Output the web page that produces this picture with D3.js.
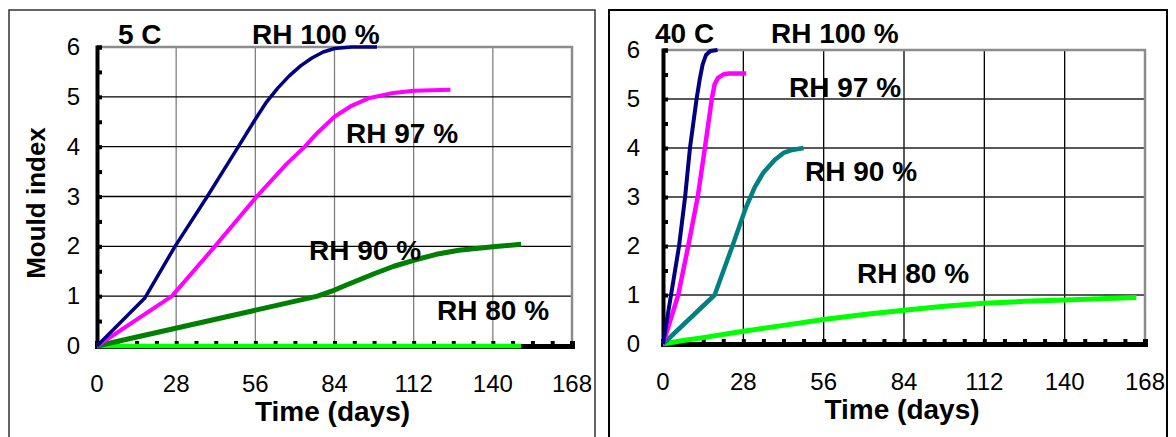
<!DOCTYPE html>
<html lang="en">
<head>
    <meta charset="UTF-8">
    <script src="https://cdn.jsdelivr.net/npm/d3@7"></script>
    <title>Mould index</title>
    <style>
        body { margin: 0; background: #fff; }
        svg { display: block; font-family: "Liberation Sans", Arial, sans-serif; }
    </style>
</head>
<body>
    <div id="chart"></div>

    <script>
        // ---------------- data (days, mould index) ----------------
        const xTicks = [0, 28, 56, 84, 112, 140, 168];
        const yTicks = [0, 1, 2, 3, 4, 5, 6];

        // 5 C
        const c5_rh100 = [[0, 0], [17, 0.97], [27.6, 2], [39, 3], [50, 4], [56, 4.55], [60, 4.9], [64, 5.18], [68, 5.42], [72, 5.62], [76, 5.78], [80, 5.9], [84, 5.97], [90, 6], [99, 6]];
        const c5_rh97 = [[0, 0], [26.5, 1], [41.7, 2], [56.5, 3], [67, 3.65], [73.5, 4], [78, 4.28], [84, 4.6], [90, 4.82], [96, 4.97], [104, 5.07], [112, 5.12], [125, 5.14]];
        const c5_rh90 = [[0, 0], [78, 1], [83, 1.1], [88, 1.22], [98, 1.45], [105, 1.6], [112, 1.72], [120, 1.84], [128, 1.92], [140, 1.99], [150, 2.04]];
        const c5_rh80 = [[0, 0], [150, 0]];

        // 40 C
        const c40_rh100 = [[0, 0], [2.8, 1], [5.6, 2], [7.7, 3], [9.4, 4], [11.7, 5], [12.8, 5.4], [13.8, 5.7], [15, 5.9], [16.5, 5.98], [19, 6]];
        const c40_rh97 = [[0, 0], [5.3, 1], [8.8, 2], [12.1, 3], [14.6, 4], [17, 5], [18, 5.3], [19.2, 5.43], [21, 5.5], [23, 5.52], [29, 5.52]];
        const c40_rh90 = [[0, 0], [18, 1], [24.2, 2], [29, 2.8], [32, 3.2], [35, 3.5], [39, 3.76], [42, 3.9], [45, 3.96], [49, 4]];
        const c40_rh80 = [[0, 0], [7, 0.07], [14, 0.13], [28, 0.26], [42, 0.38], [56, 0.5], [70, 0.6], [84, 0.69], [98, 0.77], [112, 0.83], [126, 0.87], [140, 0.9], [165, 0.95]];

        const W = 1176, H = 437;
        const svg = d3.select("#chart").append("svg")
            .attr("width", W)
            .attr("height", H);

        const labelFont = 28;

        const drawPanel = (cfg) => {
            const g = svg.append("g");

            // outer frame
            g.append("rect")
                .attr("x", cfg.frame[0]).attr("y", cfg.frame[1])
                .attr("width", cfg.frame[2]).attr("height", cfg.frame[3])
                .attr("fill", "none")
                .attr("stroke", cfg.frameColor)
                .attr("stroke-width", cfg.frameWidth);

            const x = d3.scaleLinear().domain([0, 168]).range([cfg.x0, cfg.x1]);
            const y = d3.scaleLinear().domain([0, 6]).range([cfg.y0, cfg.y1]);

            // grid
            g.selectAll(".vgrid").data(xTicks.slice(1, -1)).enter().append("line")
                .attr("x1", d => x(d)).attr("x2", d => x(d))
                .attr("y1", y(0)).attr("y2", y(6))
                .attr("stroke", cfg.vGridColor).attr("stroke-width", 1.3);
            g.selectAll(".hgrid").data(yTicks.slice(1, -1)).enter().append("line")
                .attr("x1", x(0)).attr("x2", x(168))
                .attr("y1", d => y(d)).attr("y2", d => y(d))
                .attr("stroke", cfg.hGridColor).attr("stroke-width", 1.3);

            // plot border top/right
            g.append("path")
                .attr("d", `M${x(0)},${y(6)}H${x(168)}V${y(0)}`)
                .attr("fill", "none").attr("stroke", "#8c8c8c").attr("stroke-width", 2.5);

            // axes
            const xAxis = d3.axisBottom(x).tickValues(d3.range(0, 169, 7)).tickSize(-5).tickFormat("");
            g.append("g").attr("transform", `translate(0,${y(0)})`).call(xAxis)
                .call(a => a.select(".domain").attr("stroke-width", 5))
                .call(a => a.selectAll(".tick line").attr("stroke-width", 4));

            const yAxis = d3.axisLeft(y).tickValues(d3.range(0, 6.01, 0.5)).tickSize(-5).tickFormat("");
            g.append("g").attr("transform", `translate(${x(0)},0)`).call(yAxis)
                .call(a => a.select(".domain").attr("stroke-width", 4))
                .call(a => a.selectAll(".tick line").attr("stroke-width", 4));

            // tick labels
            g.selectAll(".xl").data(xTicks).enter().append("text")
                .attr("x", d => x(d)).attr("y", cfg.y0 + 46)
                .attr("text-anchor", "middle")
                .attr("font-size", 24)
                .text(d => d);
            g.selectAll(".yl").data(yTicks).enter().append("text")
                .attr("x", cfg.yLabelX).attr("y", d => y(d) + 8)
                .attr("text-anchor", "end")
                .attr("font-size", 24)
                .text(d => d);

            // axis title
            g.append("text")
                .attr("x", (cfg.x0 + cfg.x1) / 2 - 2).attr("y", cfg.y0 + 75)
                .attr("text-anchor", "middle")
                .attr("font-size", 28).attr("font-weight", "bold")
                .text("Time (days)");

            // series
            const line = d3.line()
                .x(d => x(d[0]))
                .y(d => y(d[1]));

            cfg.series.forEach(s => {
                g.append("path")
                    .datum(s.data)
                    .attr("d", line)
                    .attr("fill", "none")
                    .attr("stroke", s.color)
                    .attr("stroke-width", s.width)
                    .attr("stroke-linejoin", "round");
            });

            // labels
            cfg.labels.forEach(l => {
                g.append("text")
                    .attr("x", l[1]).attr("y", l[2])
                    .attr("font-size", labelFont).attr("font-weight", "bold")
                    .text(l[0]);
            });

            return g;
        };

        drawPanel({
            frame: [9, 10, 586, 440],
            frameColor: "#333", frameWidth: 1.5,
            x0: 97, x1: 572, y0: 346, y1: 47,
            yLabelX: 80,
            vGridColor: "#808080", hGridColor: "#000",
            series: [
                { data: c5_rh80, color: "#00ff00", width: 4.5 },
                { data: c5_rh90, color: "#008000", width: 5 },
                { data: c5_rh97, color: "#ff00ff", width: 4 },
                { data: c5_rh100, color: "#000080", width: 3.5 }
            ],
            labels: [
                ["5 C", 118, 44],
                ["RH 100 %", 252, 44],
                ["RH 97 %", 346, 143],
                ["RH 90 %", 309, 260],
                ["RH 80 %", 437, 320]
            ]
        });

        drawPanel({
            frame: [609, 10, 558, 440],
            frameColor: "#000", frameWidth: 2,
            x0: 663, x1: 1145, y0: 344, y1: 50,
            yLabelX: 640,
            vGridColor: "#000", hGridColor: "#222",
            series: [
                { data: c40_rh80, color: "#00ff00", width: 5 },
                { data: c40_rh90, color: "#008080", width: 4.5 },
                { data: c40_rh97, color: "#ff00ff", width: 4.5 },
                { data: c40_rh100, color: "#000080", width: 4 }
            ],
            labels: [
                ["40 C", 655, 43],
                ["RH 100 %", 771, 43],
                ["RH 97 %", 789, 97],
                ["RH 90 %", 805, 181],
                ["RH 80 %", 857, 283]
            ]
        });

        // y axis title (left panel only)
        svg.append("text")
            .attr("transform", "translate(45,203) rotate(-90)")
            .attr("text-anchor", "middle")
            .attr("font-size", 26).attr("font-weight", "bold")
            .text("Mould index");
    </script>
</body>
</html>
